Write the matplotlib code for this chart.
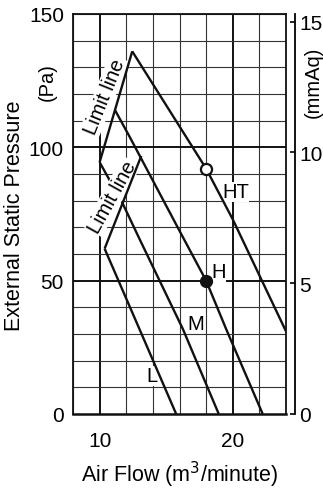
import matplotlib
matplotlib.use("Agg")
import matplotlib.pyplot as plt

plt.rcParams['font.family'] = ['Liberation Sans', 'DejaVu Sans']

# ---- data ----
ht_x = [12.45, 18, 20, 24]
ht_y = [136, 92, 73, 31]
h_x = [11.15, 12.25, 16, 18, 19.5, 22.25]
h_y = [114, 104, 68.7, 50, 31.9, 0]
m_x = [10, 11.75, 13, 16.25, 18.95]
m_y = [94.4, 78.75, 65.6, 31.9, 0]
l_x = [10.375, 13.1, 15.75]
l_y = [62, 30.6, 0]
limit1_x = [10, 12.45]
limit1_y = [94.4, 136]
limit2_x = [10.375, 13.13]
limit2_y = [62, 96.8]
ht_point = (18, 92)
h_point = (18, 50)
x_ticks = [10, 20]
y_ticks = [0, 50, 100, 150]
mm_ticks = [0, 5, 10, 15]
PA_PER_MMAQ = 9.80665

W, H = 323, 489
fig = plt.figure(figsize=(W / 100, H / 100), dpi=100)
ax = fig.add_axes([73 / W, 1 - 415 / H, 213 / W, 400 / H])
ax.set_xlim(8, 24)
ax.set_ylim(0, 150)

# grid
for gx in range(8, 25, 2):
    major = gx in (10, 20)
    ax.axvline(gx, color='#111' if major else '#333', lw=1.4 if major else 0.8, zorder=1)
for gy in range(0, 151, 10):
    major = gy in (50, 100)
    ax.axhline(gy, color='#111' if major else '#333', lw=1.4 if major else 0.8, zorder=1)

lw = 1.7
for xs, ys in [(ht_x, ht_y), (h_x, h_y), (m_x, m_y), (l_x, l_y)]:
    ax.plot(xs, ys, color='#111', lw=lw, zorder=3, solid_capstyle='butt')
for xs, ys in [(limit1_x, limit1_y), (limit2_x, limit2_y)]:
    ax.plot(xs, ys, color='#111', lw=lw, zorder=6, solid_capstyle='butt')

ax.plot(*ht_point, 'o', ms=8, mfc='white', mec='#111', mew=1.6, zorder=7)
ax.plot(*h_point, 'o', ms=8.5, mfc='#111', mec='#111', zorder=7)

bb = dict(boxstyle='square,pad=0.05', fc='white', ec='none')
ax.text(10.36, 119.4, 'Limit line', rotation=68, ha='center', va='center',
        fontsize=14.5, bbox=bb, zorder=4, rotation_mode='anchor')
ax.text(10.95, 81.6, 'Limit line', rotation=61, ha='center', va='center',
        fontsize=14.5, bbox=bb, zorder=4, rotation_mode='anchor')
bb2 = dict(boxstyle='square,pad=0.02', fc='white', ec='none')
for lab, x, y in [('HT', 20.2, 83.4), ('H', 18.93, 53.4), ('M', 17.19, 34.1), ('L', 13.9, 14.4)]:
    ax.text(x, y, lab, ha='center', va='center', fontsize=14.5, bbox=bb2, zorder=2)

ax.set_xticks(x_ticks)
ax.set_yticks(y_ticks)
ax.tick_params(axis='x', length=0, pad=12, labelsize=15)
ax.tick_params(axis='y', length=0, pad=6.5, labelsize=15)
for s in ax.spines.values():
    s.set_linewidth(1.3)
    s.set_color('#111')
ax.spines['bottom'].set_linewidth(1.8)

# right axis in mmAq
ax2 = ax.twinx()
ax2.set_ylim(0, 150 / PA_PER_MMAQ)
ax2.set_yticks(mm_ticks)
for k in ('left', 'top', 'bottom'):
    ax2.spines[k].set_visible(False)
ax2.spines['right'].set_position(('outward', 6.5))
ax2.spines['right'].set_linewidth(1.3)
ax2.tick_params(axis='y', direction='in', length=3.5, width=1.2, pad=3, labelsize=15)

fig.text(15 / W, 1 - 216 / H, 'External Static Pressure', rotation=90,
         ha='center', va='center', fontsize=15.5)
fig.text(47 / W, 1 - 82 / H, '(Pa)', rotation=90, ha='center', va='center', fontsize=14.5)
fig.text(313 / W, 1 - 82 / H, '(mmAq)', rotation=90, ha='center', va='center', fontsize=14.5)
fig.text(180 / W, 1 - 475 / H, 'Air Flow (m$^3$/minute)', ha='center', va='center', fontsize=15.5)

fig.savefig('out.png', dpi=100)
